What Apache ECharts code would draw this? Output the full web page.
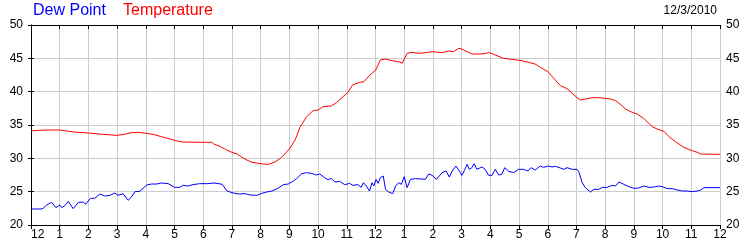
<!DOCTYPE html>
<html>
<head>
<meta charset="utf-8">
<script src="https://cdn.jsdelivr.net/npm/echarts@6/dist/echarts.min.js"></script>
<style>
html,body{margin:0;padding:0;background:#fff;}
#c{width:750px;height:250px;}
</style>
</head>
<body>
<div id="c"></div>
<script>
var hourLabels = ['12','1','2','3','4','5','6','7','8','9','10','11','12','1','2','3','4','5','6','7','8','9','10','11','12'];
var yTicks = [20, 25, 30, 35, 40, 45, 50];
var titleDate = '12/3/2010';

var tempHours = [0,0.25,0.5,1,1.25,1.5,2,2.5,3,3.25,3.5,3.75,4,4.25,4.5,4.75,5,5.25,6,6.3,6.37,6.6,6.77,7.0,7.18,7.35,7.52,7.7,7.87,8.1,8.27,8.5,8.73,9.0,9.2,9.37,9.6,9.83,10.0,10.17,10.46,10.64,10.87,11.04,11.2,11.44,11.6,11.79,12.0,12.17,12.35,12.58,12.81,12.93,13.1,13.27,13.5,13.74,13.97,14.32,14.55,14.72,14.9,15.0,15.19,15.36,15.59,15.82,15.94,16.17,16.46,16.75,17.1,17.33,17.56,17.74,18.0,18.21,18.44,18.67,18.85,19.02,19.14,19.31,19.55,19.78,20.01,20.19,20.36,20.53,20.71,20.94,21.12,21.35,21.64,21.81,22.05,22.22,22.45,22.74,23.03,23.21,23.33,24.0];
var tempValues = [34.1,34.2,34.25,34.25,34.1,33.95,33.8,33.6,33.45,33.6,33.85,33.9,33.75,33.6,33.3,33.0,32.7,32.45,32.4,32.4,32.15,31.75,31.35,30.9,30.65,30.15,29.75,29.4,29.3,29.15,29.1,29.45,30.15,31.4,32.75,34.65,36.25,37.15,37.25,37.75,37.85,38.35,39.25,39.9,41.0,41.4,41.5,42.45,43.2,44.75,44.9,44.65,44.5,44.25,45.75,45.9,45.75,45.85,46.0,45.85,46.1,46.0,46.5,46.4,46.0,45.65,45.65,45.7,45.9,45.5,45.0,44.85,44.65,44.4,44.15,43.65,43.0,42.0,40.9,40.45,39.75,39.1,38.75,38.9,39.1,39.1,39.0,38.9,38.65,38.1,37.4,36.9,36.65,35.95,34.75,34.4,34.05,33.25,32.5,31.65,31.15,30.9,30.65,30.6];

var dewHours = [0,0.35,0.43,0.54,0.72,0.87,1.0,1.07,1.18,1.3,1.47,1.65,1.82,1.9,2.07,2.22,2.4,2.57,2.75,2.92,3.03,3.21,3.38,3.5,3.62,3.79,4.03,4.2,4.38,4.55,4.78,5.0,5.18,5.3,5.47,5.64,5.87,6.16,6.37,6.54,6.66,6.83,7.0,7.23,7.46,7.64,7.87,8.04,8.21,8.39,8.56,8.79,8.96,9.14,9.25,9.43,9.6,9.77,9.94,10.06,10.23,10.35,10.46,10.58,10.75,10.93,11.1,11.21,11.39,11.5,11.58,11.68,11.79,11.88,11.94,12.02,12.09,12.17,12.27,12.35,12.46,12.6,12.7,12.81,12.9,13.0,13.1,13.22,13.39,13.62,13.74,13.85,13.97,14.12,14.32,14.46,14.57,14.67,14.8,14.92,15.01,15.1,15.19,15.27,15.36,15.44,15.53,15.71,15.82,15.94,16.06,16.17,16.29,16.4,16.5,16.64,16.81,16.98,17.16,17.21,17.31,17.42,17.56,17.74,17.85,18.03,18.15,18.27,18.44,18.56,18.67,18.85,19.02,19.08,19.2,19.31,19.49,19.6,19.78,19.9,20.07,20.24,20.36,20.48,20.65,20.83,21.0,21.17,21.35,21.52,21.7,21.87,21.99,22.16,22.34,22.51,22.69,22.86,23.03,23.21,23.33,23.44,24.0];
var dewValues = [22.4,22.4,22.5,23.0,23.4,22.6,23.0,22.6,22.9,23.55,22.45,23.4,23.45,23.1,24.0,24.0,24.65,24.35,24.45,24.8,24.45,24.7,23.7,24.2,25.0,25.05,26.0,26.15,26.15,26.3,26.2,25.65,25.65,25.95,25.85,26.05,26.2,26.2,26.3,26.2,26.1,25.1,24.85,24.65,24.7,24.5,24.45,24.75,24.95,25.1,25.4,26.05,26.15,26.6,26.95,27.7,27.85,27.75,27.5,27.65,27.1,26.8,27.0,26.45,26.55,26.05,26.25,25.95,26.05,25.65,26.35,25.85,25.1,26.35,25.85,26.85,26.25,27.1,27.35,25.35,24.95,24.7,25.85,26.35,26.1,27.25,25.6,26.85,26.95,26.9,26.85,27.65,27.45,26.85,27.85,28.1,27.2,28.1,28.85,28.1,27.45,28.2,29.1,28.35,28.6,29.2,28.35,28.7,28.35,27.45,27.45,28.35,27.5,27.6,28.6,28.05,27.85,28.35,28.35,28.65,28.1,28.6,28.25,28.85,28.65,28.85,28.7,28.8,28.55,28.35,28.6,28.35,28.35,28.0,26.35,25.6,24.95,25.35,25.35,25.65,25.65,25.95,25.85,26.45,26.1,25.75,25.5,25.55,25.85,25.65,25.7,25.85,25.75,25.45,25.45,25.25,25.1,25.1,25.0,25.1,25.25,25.6,25.6];

function pairs(xs, ys) { return xs.map(function (x, i) { return [x, ys[i]]; }); }

var FONT = '"Liberation Sans", Arial, sans-serif';
var chart = echarts.init(document.getElementById('c'), null, {renderer: 'canvas'});
var axisLineStyle = {color: '#000', width: 1};
chart.setOption({
  animation: false,
  backgroundColor: '#fff',
  grid: {left: 31, right: 30, top: 25, bottom: 25, containLabel: false},
  graphic: [
    {type: 'text', left: 33, top: 3, style: {text: 'Dew Point', fill: '#0000ff', font: '16px ' + FONT}},
    {type: 'text', left: 123, top: 3, style: {text: 'Temperature', fill: '#ff0000', font: '16px ' + FONT}},
    {type: 'text', right: 33, top: 5, style: {text: titleDate, fill: '#000', font: '12px ' + FONT}}
  ],
  xAxis: [
    {
      type: 'value', position: 'bottom', min: 0, max: 24, interval: 1,
      axisLine: {show: true, lineStyle: axisLineStyle},
      axisTick: {show: true, inside: false, length: 4, lineStyle: axisLineStyle},
      axisLabel: {
        show: true, margin: 4, color: '#000', fontFamily: FONT, fontSize: 12,
        alignMinLabel: 'left',
        formatter: function (v) { return hourLabels[Math.round(v)]; }
      },
      splitLine: {show: true, lineStyle: {color: '#cccccc', width: 1}}
    },
    {
      type: 'value', position: 'top', min: 0, max: 24, interval: 1,
      axisLine: {show: true, lineStyle: axisLineStyle},
      axisTick: {show: true, inside: true, length: 4, lineStyle: axisLineStyle},
      axisLabel: {show: false},
      splitLine: {show: false}
    }
  ],
  yAxis: [
    {
      type: 'value', position: 'left', min: yTicks[0], max: yTicks[yTicks.length - 1], interval: 5,
      axisLine: {show: true, lineStyle: axisLineStyle},
      axisTick: {show: true, inside: false, length: 3, lineStyle: axisLineStyle},
      axisLabel: {show: true, margin: 8, color: '#000', fontFamily: FONT, fontSize: 12},
      splitLine: {show: true, lineStyle: {color: '#cccccc', width: 1}}
    },
    {
      type: 'value', position: 'right', min: yTicks[0], max: yTicks[yTicks.length - 1], interval: 5,
      axisLine: {show: true, lineStyle: axisLineStyle},
      axisTick: {show: true, inside: false, length: 3, lineStyle: axisLineStyle},
      axisLabel: {show: true, margin: 6, color: '#000', fontFamily: FONT, fontSize: 12},
      splitLine: {show: false}
    }
  ],
  series: [
    {
      name: 'Dew Point', type: 'line', xAxisIndex: 0, yAxisIndex: 0,
      data: pairs(dewHours, dewValues), showSymbol: false, symbol: 'none',
      lineStyle: {color: '#0000ff', width: 1}, z: 3
    },
    {
      name: 'Temperature', type: 'line', xAxisIndex: 0, yAxisIndex: 0,
      data: pairs(tempHours, tempValues), showSymbol: false, symbol: 'none',
      lineStyle: {color: '#ff0000', width: 1}, z: 3
    }
  ]
});
</script>
</body>
</html>
